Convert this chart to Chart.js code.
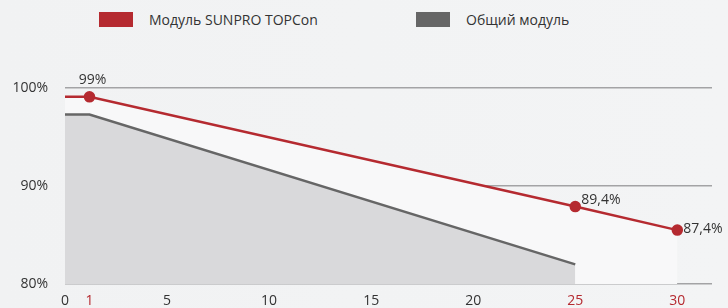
<!DOCTYPE html>
<html>
<head>
<meta charset="utf-8">
<script src="https://cdn.jsdelivr.net/npm/chart.js@4.4.1/dist/chart.umd.min.js"></script>
<style>
    html, body { margin: 0; padding: 0; }
    body { width: 728px; height: 308px; background: linear-gradient(90deg, #f1f2f3, #f3f4f5); position: relative; overflow: hidden; }
    #wrap { position: absolute; left: 0; top: 0; width: 728px; height: 308px; }
    .legend { position: absolute; top: 12px; height: 15px; font-family: "Open Sans", sans-serif; font-size: 14px; color: #333; display: flex; align-items: center; white-space: nowrap; }
    .legend span.box { display: inline-block; width: 34px; height: 15px; margin-right: 16px; }
</style>
</head>
<body>
<div class="legend" style="left:99px"><span class="box" style="background:#b52a30"></span>Модуль SUNPRO TOPCon</div>
<div class="legend" style="left:416px"><span class="box" style="background:#666666"></span>Общий модуль</div>
<div id="wrap"><canvas id="chart" width="728" height="308"></canvas></div>
<script>
// годы и значения (положение точек)
const sunproYears = [0, 1.2, 25, 30];
const sunproValues = [99.1, 99.1, 87.9, 85.5];
const sunproLabels = ["", "99%", "89,4%", "87,4%"];
const commonYears = [0, 1.2, 25];
const commonValues = [97.3, 97.3, 82];
const xTickPos = [0, 1.2, 5, 10, 15, 20, 25, 30];
const xTickLabels = ["0", "1", "5", "10", "15", "20", "25", "30"];
const redTicks = ["1", "25", "30"];

const RED = "#b52a30";
const GREY = "#666666";

// подписи значений у точек
const valueLabels = {
    id: "valueLabels",
    afterDatasetsDraw(chart) {
        const ctx = chart.ctx;
        const meta = chart.getDatasetMeta(0);
        ctx.save();
        ctx.font = "14px 'Open Sans'";
        ctx.fillStyle = "#333";
        ctx.textBaseline = "middle";
        meta.data.forEach((pt, i) => {
            const txt = sunproLabels[i];
            if (!txt) return;
            if (i === 1) {
                ctx.textAlign = "center";
                ctx.fillText(txt, pt.x + 3, pt.y - 17);
            } else if (i === 2) {
                ctx.textAlign = "left";
                ctx.fillText(txt, pt.x + 6, pt.y - 7);
            } else {
                ctx.textAlign = "left";
                ctx.fillText(txt, pt.x + 6, pt.y - 1);
            }
        });
        ctx.restore();
    }
};

new Chart(document.getElementById("chart"), {
    type: "line",
    data: {
        datasets: [
            {
                label: "Модуль SUNPRO TOPCon",
                data: sunproYears.map((x, i) => ({ x: x, y: sunproValues[i] })),
                borderColor: RED,
                borderWidth: 2.5,
                backgroundColor: "#f8f8f9",
                fill: "start",
                pointRadius: sunproYears.map((x) => (x === 0 ? 0 : 4.5)),
                pointBackgroundColor: RED,
                pointBorderColor: RED,
                tension: 0,
                order: 2
            },
            {
                label: "Общий модуль",
                data: commonYears.map((x, i) => ({ x: x, y: commonValues[i] })),
                borderColor: GREY,
                borderWidth: 2.5,
                backgroundColor: "#d9d9db",
                fill: "start",
                pointRadius: 0,
                tension: 0,
                order: 1
            }
        ]
    },
    options: {
        responsive: false,
        animation: false,
        layout: { padding: { top: 88, right: 16, left: 0, bottom: 0 } },
        plugins: {
            legend: { display: false },
            tooltip: { enabled: false }
        },
        scales: {
            x: {
                type: "linear",
                min: 0,
                max: 31.7,
                afterBuildTicks: (axis) => { axis.ticks = xTickPos.map((v) => ({ value: v })); },
                afterFit: (axis) => { axis.height = 24; },
                grid: { display: false },
                border: { display: false },
                ticks: {
                    padding: 1,
                    autoSkip: false,
                    maxRotation: 0,
                    font: { family: "'Open Sans'", size: 14 },
                    callback: (v) => xTickLabels[xTickPos.indexOf(v)],
                    color: (c) => (redTicks.includes(xTickLabels[c.index]) ? "#b52a30" : "#333")
                }
            },
            y: {
                min: 80,
                max: 100,
                afterFit: (axis) => { axis.width = 65; },
                grid: { color: "#a3a3a5", lineWidth: 1.5, drawTicks: true, tickLength: 15, tickColor: "rgba(0,0,0,0)" },
                border: { display: false },
                ticks: {
                    stepSize: 10,
                    padding: 2,
                    font: { family: "'Open Sans'", size: 14 },
                    color: "#333",
                    callback: (v) => v + "%"
                }
            }
        }
    },
    plugins: [valueLabels]
});
</script>
</body>
</html>
